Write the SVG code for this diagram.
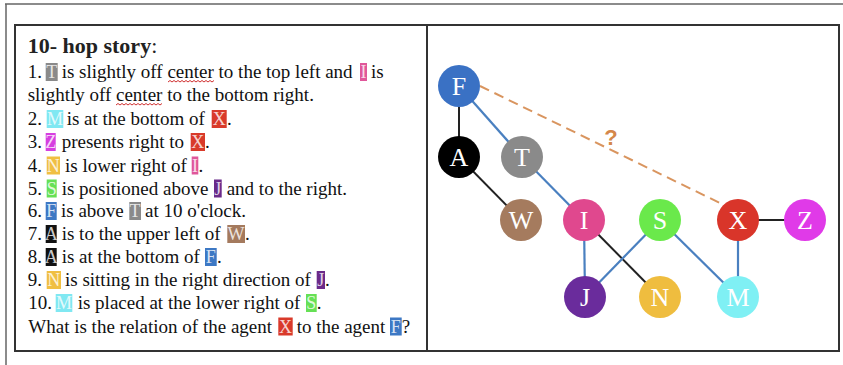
<svg xmlns="http://www.w3.org/2000/svg" width="843" height="365" viewBox="0 0 843 365">
<style>
.t{font-family:"Liberation Serif","Times New Roman",serif;font-size:19px;fill:#111}
.ttl{font-family:"Liberation Serif","Times New Roman",serif;font-size:22px;font-weight:bold;fill:#222}
.bl{font-family:"Liberation Serif","Times New Roman",serif;font-size:18px;fill:#fff;fill-opacity:0.8;text-anchor:middle}
.nl{font-family:"Liberation Serif","Times New Roman",serif;font-size:26px;fill:#fff;text-anchor:middle}
.eb{stroke:#4a80c0;stroke-width:2.2;fill:none}
.ek{stroke:#222;stroke-width:2;fill:none}
.wave{stroke:#d03030;stroke-width:1;fill:none}
</style>
<rect width="843" height="365" fill="#fff"/>
<path d="M5 4H843M6 4V365" stroke="#666" stroke-width="1.5" fill="none"/>
<rect x="15" y="25" width="824" height="326" fill="none" stroke="#333" stroke-width="2"/>
<line x1="427" y1="25" x2="427" y2="351" stroke="#333" stroke-width="2"/>

<g id="story">
<text class="ttl" x="27.7" y="53">10- hop story<tspan font-weight="normal">:</tspan></text>
<g id="boxes">
<rect x="45.7" y="63" width="12" height="18" fill="#8a8a8a"/><text class="bl" x="51.7" y="78">T</text>
<rect x="360" y="63" width="7" height="18" fill="#e0579a"/><text class="bl" x="363.5" y="78">I</text>
<rect x="46.7" y="110" width="16.6" height="18" fill="#80e8f2"/><text class="bl" x="55" y="125">M</text>
<rect x="211.7" y="110" width="15" height="18" fill="#d93a2a"/><text class="bl" x="219.2" y="125">X</text>
<rect x="45.7" y="133" width="10" height="18" fill="#d63fe0"/><text class="bl" x="50.7" y="148">Z</text>
<rect x="190.7" y="133" width="14.3" height="18" fill="#d93a2a"/><text class="bl" x="197.8" y="148">X</text>
<rect x="46.7" y="156.5" width="13.3" height="18" fill="#f0bf42"/><text class="bl" x="53.3" y="171.5">N</text>
<rect x="191.7" y="156.5" width="6.6" height="18" fill="#e0579a"/><text class="bl" x="195" y="171.5">I</text>
<rect x="46.7" y="179.5" width="10" height="18" fill="#66e055"/><text class="bl" x="51.7" y="194.5">S</text>
<rect x="214" y="179.5" width="7.7" height="18" fill="#6a2a8a"/><text class="bl" x="217.8" y="194.5">J</text>
<rect x="45.7" y="202" width="11" height="18" fill="#3d78c4"/><text class="bl" x="51.2" y="217">F</text>
<rect x="129.3" y="202" width="11.7" height="18" fill="#8a8a8a"/><text class="bl" x="135.1" y="217">T</text>
<rect x="45.7" y="225" width="11" height="18" fill="#111"/><text class="bl" x="51.2" y="240">A</text>
<rect x="227.3" y="225" width="17.7" height="18" fill="#a47a5e"/><text class="bl" x="236.1" y="240">W</text>
<rect x="45.7" y="248" width="11" height="18" fill="#111"/><text class="bl" x="51.2" y="263">A</text>
<rect x="205" y="248" width="11.7" height="18" fill="#3d78c4"/><text class="bl" x="210.8" y="263">F</text>
<rect x="46.7" y="271" width="14.3" height="18" fill="#f0bf42"/><text class="bl" x="53.8" y="286">N</text>
<rect x="316.7" y="271" width="8.3" height="18" fill="#6a2a8a"/><text class="bl" x="320.8" y="286">J</text>
<rect x="55.7" y="294" width="16.6" height="18" fill="#80e8f2"/><text class="bl" x="64" y="309">M</text>
<rect x="306" y="294" width="10.7" height="18" fill="#66e055"/><text class="bl" x="311.3" y="309">S</text>
<rect x="278.3" y="317.5" width="14.4" height="18" fill="#d93a2a"/><text class="bl" x="285.5" y="332.5">X</text>
<rect x="390" y="317.5" width="11.7" height="18" fill="#3d78c4"/><text class="bl" x="395.8" y="332.5">F</text>
</g>
<text class="t" y="78"><tspan x="27.7">1.</tspan><tspan x="61.7">is slightly off center to the top left and</tspan><tspan x="371">is</tspan></text>
<text class="t" y="101"><tspan x="27.7">slightly off center to the bottom right.</tspan></text>
<text class="t" y="125"><tspan x="27.7">2.</tspan><tspan x="66.7">is at the bottom of</tspan><tspan x="227">.</tspan></text>
<text class="t" y="148"><tspan x="27.7">3.</tspan><tspan x="61.7">presents right to</tspan><tspan x="205">.</tspan></text>
<text class="t" y="171.5"><tspan x="27.7">4.</tspan><tspan x="65">is lower right of</tspan><tspan x="198.5">.</tspan></text>
<text class="t" y="194.5"><tspan x="27.7">5.</tspan><tspan x="61.7">is positioned above</tspan><tspan x="226.7">and to the right.</tspan></text>
<text class="t" y="217"><tspan x="27.7">6.</tspan><tspan x="61">is above</tspan><tspan x="145">at 10 o'clock.</tspan></text>
<text class="t" y="240"><tspan x="27.7">7.</tspan><tspan x="61.7">is to the upper left of</tspan><tspan x="245">.</tspan></text>
<text class="t" y="263"><tspan x="27.7">8.</tspan><tspan x="61.7">is at the bottom of</tspan><tspan x="217">.</tspan></text>
<text class="t" y="286"><tspan x="27.7">9.</tspan><tspan x="65">is sitting in the right direction of</tspan><tspan x="325">.</tspan></text>
<text class="t" y="309"><tspan x="28.3">10.</tspan><tspan x="77.7">is placed at the lower right of</tspan><tspan x="316.7">.</tspan></text>
<text class="t" y="332.5"><tspan x="28.3">What is the relation of the agent</tspan><tspan x="296.7">to the agent</tspan><tspan x="401.7">?</tspan></text>
<path class="wave" d="M168 82l2 -1.5l2 1.5l2 -1.5l2 1.5l2 -1.5l2 1.5l2 -1.5l2 1.5l2 -1.5l2 1.5l2 -1.5l2 1.5l2 -1.5l2 1.5l2 -1.5l2 1.5l2 -1.5l2 1.5l2 -1.5l2 1.5l2 -1.5l2 1.5l2 -1.5"/>
<path class="wave" d="M116 105l2 -1.5l2 1.5l2 -1.5l2 1.5l2 -1.5l2 1.5l2 -1.5l2 1.5l2 -1.5l2 1.5l2 -1.5l2 1.5l2 -1.5l2 1.5l2 -1.5l2 1.5l2 -1.5l2 1.5l2 -1.5l2 1.5l2 -1.5l2 1.5l2 -1.5"/>
</g>

<g id="connectors">
<line class="ek" x1="459" y1="86" x2="459" y2="157"/>
<line class="eb" x1="459" y1="86" x2="522" y2="157"/>
<line class="eb" x1="522" y1="157" x2="584" y2="220"/>
<line class="ek" x1="459" y1="157" x2="521" y2="220"/>
<line class="eb" x1="584" y1="220" x2="585" y2="297"/>
<line class="ek" x1="584" y1="220" x2="660" y2="297"/>
<line class="eb" x1="660" y1="220" x2="585" y2="297"/>
<line class="eb" x1="660" y1="220" x2="738" y2="297"/>
<line class="eb" x1="738" y1="220" x2="738" y2="297"/>
<line class="ek" x1="738" y1="220" x2="805" y2="220"/>
<line x1="480" y1="86" x2="724" y2="205" stroke="#d9955f" stroke-width="2" stroke-dasharray="10 6"/>
<text x="611" y="145" font-family="Liberation Sans, Arial, sans-serif" font-size="22" font-weight="bold" fill="#d4874a" text-anchor="middle">?</text>
</g>

<g id="node-F"><circle cx="459" cy="86" r="21" fill="#3a71c4"/><text class="nl" x="459" y="95">F</text></g>
<g id="node-A"><circle cx="459" cy="157" r="21" fill="#000"/><text class="nl" x="459" y="166">A</text></g>
<g id="node-T"><circle cx="522" cy="157" r="21" fill="#8a8a8a"/><text class="nl" x="522" y="166">T</text></g>
<g id="node-W"><circle cx="521" cy="220" r="21" fill="#a57b5e"/><text class="nl" x="521" y="229">W</text></g>
<g id="node-I"><circle cx="584" cy="220" r="21" fill="#e0488e"/><text class="nl" x="584" y="229">I</text></g>
<g id="node-S"><circle cx="660" cy="220" r="21" fill="#6ae94b"/><text class="nl" x="660" y="229">S</text></g>
<g id="node-X"><circle cx="738" cy="220" r="21" fill="#d9352a"/><text class="nl" x="738" y="229">X</text></g>
<g id="node-Z"><circle cx="805" cy="220" r="21" fill="#e03ae8"/><text class="nl" x="805" y="229">Z</text></g>
<g id="node-J"><circle cx="585" cy="297" r="21" fill="#6a2c9c"/><text class="nl" x="585" y="306">J</text></g>
<g id="node-N"><circle cx="660" cy="297" r="21" fill="#efbd3f"/><text class="nl" x="660" y="306">N</text></g>
<g id="node-M"><circle cx="738" cy="297" r="21" fill="#7ff0f4"/><text class="nl" x="738" y="306">M</text></g>
</svg>
